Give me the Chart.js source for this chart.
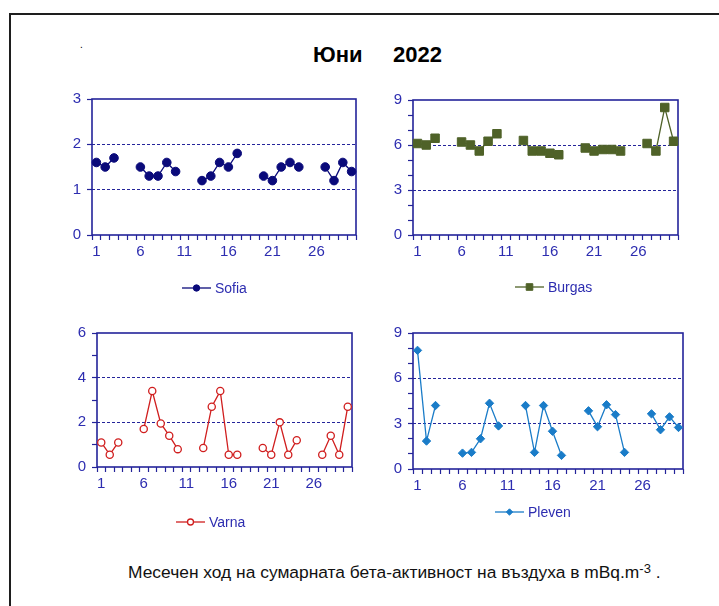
<!DOCTYPE html>
<html>
<head>
<meta charset="utf-8">
<script src="https://cdn.jsdelivr.net/npm/chart.js@4.4.1/dist/chart.umd.min.js"></script>
<style>
  html, body { margin: 0; padding: 0; background: #fff; }
  body { width: 719px; height: 606px; position: relative; overflow: hidden;
         font-family: 'Liberation Sans', Arial, sans-serif; }
  .frame { position: absolute; left: 9px; top: 13px; width: 760px; height: 660px;
           border: 2px solid #1e1e1e; box-sizing: border-box; }
  .dot { position: absolute; left: 80px; top: 40px; font-size: 10px; line-height: 10px; color: #000; }
  .title { position: absolute; left: 313px; top: 44px; font-size: 22px; line-height: 22px;
           font-weight: bold; white-space: pre; color: #000; }
  .note { position: absolute; left: 128px; top: 564px; font-size: 17.4px; line-height: 17px;
          color: #111; white-space: pre; }
  .note .sup { font-size: 13px; position: relative; top: -5px; }
  canvas { position: absolute; }
</style>
</head>
<body>
<div class="frame"></div>
<div class="dot">.</div>
<div class="title">Юни     2022</div>
<canvas id="sofia" width="340" height="230" style="left:30px;top:78px"></canvas>
<canvas id="burgas" width="345" height="230" style="left:350px;top:78px"></canvas>
<canvas id="varna" width="340" height="230" style="left:30px;top:312px"></canvas>
<canvas id="pleven" width="350" height="230" style="left:350px;top:312px"></canvas>
<div class="note">Месечен ход на сумарната бета-активност на въздуха в mBq.m<span class="sup">-3</span> .</div>
<script>
// Days of June
const days = ['1','2','3','4','5','6','7','8','9','10','11','12','13','14','15',
              '16','17','18','19','20','21','22','23','24','25','26','27','28','29','30'];
const dayLabels = ['1','6','11','16','21','26'];

// Daily total beta activity, mBq/m3 (null = no measurement)
const sofia  = [1.6, 1.5, 1.7, null, null, 1.5, 1.3, 1.3, 1.6, 1.4, null, null, 1.2, 1.3, 1.6,
                1.5, 1.8, null, null, 1.3, 1.2, 1.5, 1.6, 1.5, null, null, 1.5, 1.2, 1.6, 1.4];
const burgas = [6.1, 6.0, 6.45, null, null, 6.2, 6.0, 5.6, 6.25, 6.75, null, null, 6.3, 5.6, 5.6,
                5.45, 5.35, null, null, 5.8, 5.6, 5.7, 5.7, 5.6, null, null, 6.1, 5.6, 8.5, 6.25];
const varna  = [1.1, 0.55, 1.1, null, null, 1.7, 3.4, 1.95, 1.4, 0.8, null, null, 0.85, 2.7, 3.4,
                0.55, 0.55, null, null, 0.85, 0.55, 2.0, 0.55, 1.2, null, null, 0.55, 1.4, 0.55, 2.7];
const pleven = [7.85, 1.85, 4.2, null, null, 1.05, 1.1, 2.0, 4.35, 2.85, null, null, 4.2, 1.1, 4.2,
                2.5, 0.9, null, null, 3.85, 2.8, 4.25, 3.6, 1.1, null, null, 3.65, 2.6, 3.45, 2.75];

// Y axis labels and dashed reference levels per station
const sofiaYLabels  = [0, 1, 2, 3];
const burgasYLabels = [0, 3, 6, 9];
const varnaYLabels  = [0, 2, 4, 6];
const plevenYLabels = [0, 3, 6, 9];
const sofiaLevels  = [1, 2];
const burgasLevels = [3, 6];
const varnaLevels  = [2, 4];
const plevenLevels = [3, 6];

const AXIS = '#24249a';
const TEXT = '#2d2db0';
const FONT = "'Liberation Sans', Arial, sans-serif";

function drawMarker(ctx, style, x, y, r, fill, stroke, lw) {
  ctx.beginPath();
  if (style === 'rect') {
    ctx.rect(x - r, y - r, 2 * r, 2 * r);
  } else if (style === 'rectRot') {
    ctx.moveTo(x, y - r); ctx.lineTo(x + r, y); ctx.lineTo(x, y + r); ctx.lineTo(x - r, y); ctx.closePath();
  } else {
    ctx.arc(x, y, r, 0, Math.PI * 2);
  }
  ctx.fillStyle = fill; ctx.fill();
  ctx.lineWidth = lw; ctx.strokeStyle = stroke; ctx.stroke();
}

// Plot frame and a line+marker legend under each panel
const panelDecor = {
  id: 'panelDecor',
  beforeDatasetsDraw(chart) {
    const {ctx, chartArea: a} = chart;
    ctx.save();
    ctx.strokeStyle = AXIS; ctx.lineWidth = 1.6;
    ctx.strokeRect(a.left, a.top, a.right - a.left, a.bottom - a.top);
    ctx.restore();
  },
  afterDraw(chart, args, opts) {
    const {ctx} = chart;
    const ds = chart.data.datasets[0];
    const x = opts.x, y = opts.y;
    ctx.save();
    ctx.strokeStyle = ds.borderColor; ctx.lineWidth = 1.3;
    ctx.beginPath(); ctx.moveTo(x, y); ctx.lineTo(x + 29, y); ctx.stroke();
    drawMarker(ctx, ds.pointStyle, x + 14.5, y, opts.r, ds.pointBackgroundColor, ds.pointBorderColor, ds.pointBorderWidth);
    ctx.fillStyle = TEXT; ctx.font = '14px ' + FONT; ctx.textBaseline = 'middle';
    ctx.fillText(ds.label, x + 33, y + 1);
    ctx.restore();
  }
};

function panel(cfg) {
  const canvas = document.getElementById(cfg.id);
  const left = parseFloat(canvas.style.left), top = parseFloat(canvas.style.top);
  const yW = 40, xH = 30;
  const a = cfg.area;
  const padding = {
    left: a.l - left - yW,
    top: a.t - top,
    right: left + canvas.width - a.r,
    bottom: top + canvas.height - a.b - xH
  };
  return new Chart(canvas, {
    type: 'line',
    data: {
      labels: days,
      datasets: [{
        label: cfg.label,
        data: cfg.data,
        borderColor: cfg.color,
        borderWidth: 1.3,
        pointStyle: cfg.pointStyle,
        pointRadius: cfg.radius,
        pointHoverRadius: cfg.radius,
        pointBackgroundColor: cfg.fill,
        pointBorderColor: cfg.color,
        pointBorderWidth: cfg.pointBorderWidth,
        spanGaps: false,
        tension: 0
      }]
    },
    options: {
      responsive: false,
      animation: false,
      events: [],
      layout: { padding },
      plugins: {
        legend: { display: false },
        tooltip: { enabled: false },
        panelDecor: { x: cfg.legend[0] - left, y: cfg.legend[1] - top, r: cfg.legendR }
      },
      scales: {
        x: {
          type: 'category',
          offset: true,
          afterFit(s) { s.height = xH; },
          grid: { offset: true, drawOnChartArea: false, drawTicks: true, tickLength: 5,
                  tickColor: AXIS, color: AXIS, tickWidth: 1.2 },
          border: { display: false },
          ticks: {
            autoSkip: false, maxRotation: 0, padding: 3, color: TEXT,
            font: { family: FONT, size: 15 },
            callback(v) { const l = this.getLabelForValue(v); return dayLabels.includes(l) ? l : ''; }
          }
        },
        y: {
          min: 0, max: cfg.yLabels[cfg.yLabels.length - 1],
          afterFit(s) { s.width = yW; },
          grid: {
            drawTicks: true, tickLength: 5, tickColor: AXIS, tickWidth: 1.2, lineWidth: 1,
            color: (c) => (c.tick && cfg.levels.includes(c.tick.value)) ? AXIS : 'transparent'
          },
          border: { display: false, dash: [3, 2] },
          ticks: {
            autoSkip: false, stepSize: 1, padding: 6, color: TEXT,
            font: { family: FONT, size: 15 },
            callback: (v) => cfg.yLabels.includes(v) ? String(v) : ''
          }
        }
      }
    },
    plugins: [panelDecor]
  });
}

panel({ id: 'sofia', label: 'Sofia', data: sofia, color: '#0a0a7a', fill: '#0a0a7a',
        pointStyle: 'circle', radius: 4.3, pointBorderWidth: 1, legendR: 3.2,
        yLabels: sofiaYLabels, levels: sofiaLevels,
        area: { l: 92, t: 99, r: 356, b: 235 }, legend: [182, 288] });
panel({ id: 'burgas', label: 'Burgas', data: burgas, color: '#4f6228', fill: '#4f6228',
        pointStyle: 'rect', radius: 6, pointBorderWidth: 1, legendR: 3.3,
        yLabels: burgasYLabels, levels: burgasLevels,
        area: { l: 413, t: 100, r: 678, b: 235 }, legend: [515, 287] });
panel({ id: 'varna', label: 'Varna', data: varna, color: '#d01e1e', fill: '#ffffff',
        pointStyle: 'circle', radius: 3.6, pointBorderWidth: 1.3, legendR: 3,
        yLabels: varnaYLabels, levels: varnaLevels,
        area: { l: 97, t: 333, r: 352, b: 467 }, legend: [176, 522] });
panel({ id: 'pleven', label: 'Pleven', data: pleven, color: '#1a7cc8', fill: '#1a7cc8',
        pointStyle: 'rectRot', radius: 4.2, pointBorderWidth: 1, legendR: 3.2,
        yLabels: plevenYLabels, levels: plevenLevels,
        area: { l: 413, t: 333, r: 683, b: 469 }, legend: [495, 512] });
</script>
</body>
</html>
